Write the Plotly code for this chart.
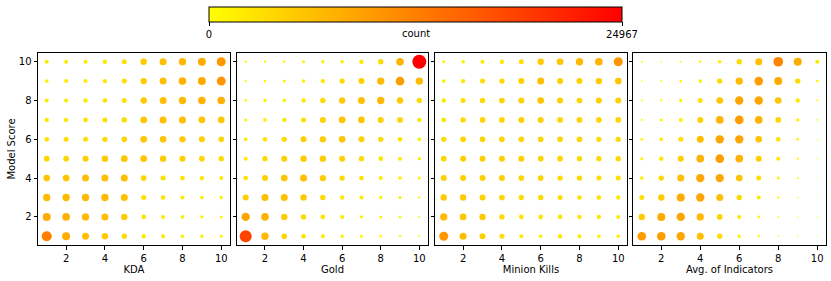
import plotly.graph_objects as go

# grid coordinates (indicator decile on x, model score on y)
x_vals = [1, 2, 3, 4, 5, 6, 7, 8, 9, 10]
y_vals = [1, 2, 3, 4, 5, 6, 7, 8, 9, 10]

panel_titles = ["KDA", "Gold", "Minion Kills", "Avg. of Indicators"]

# counts: each inner list is one model-score row (y = 1 .. 10), values for x = 1 .. 10
kda_counts = [
    [12740, 8150, 6240, 5110, 3620, 2390, 2040, 1710, 1420, 1150],
    [8150, 7490, 6850, 6240, 5110, 2770, 2040, 1710, 1420, 1150],
    [6850, 6850, 6850, 6850, 6240, 3190, 2770, 2040, 1710, 1420],
    [5660, 5660, 6240, 6240, 6240, 4090, 3190, 2770, 2390, 2040],
    [4090, 4090, 4590, 5110, 5660, 5660, 5110, 4590, 4090, 3620],
    [2770, 3190, 3190, 3620, 4090, 5660, 5660, 5110, 4590, 4090],
    [2390, 2390, 2770, 3190, 3620, 5660, 6240, 6240, 5660, 5660],
    [2040, 2040, 2390, 2770, 3190, 5110, 6240, 6850, 7490, 7490],
    [1710, 2040, 2040, 2390, 3190, 5110, 6240, 7490, 8150, 10320],
    [2040, 2040, 2040, 2390, 3190, 5110, 6240, 6850, 8150, 10320],
]
gold_counts = [
    [18340, 6850, 4090, 2770, 2040, 1420, 1150, 910, 690, 510],
    [8850, 7490, 5110, 3620, 2770, 2040, 1420, 1150, 910, 510],
    [4590, 6240, 6240, 5110, 3620, 2390, 2040, 1420, 1150, 690],
    [2770, 4590, 5660, 6240, 5110, 3620, 2770, 2040, 1710, 1150],
    [2040, 3620, 4590, 5110, 5110, 4590, 3620, 2770, 2040, 1420],
    [1710, 2770, 3620, 4590, 5110, 5660, 4590, 3620, 2770, 1710],
    [1150, 1710, 2390, 3190, 4590, 5660, 5660, 4590, 4090, 2390],
    [910, 1420, 1710, 2390, 3620, 5110, 6240, 6850, 5110, 3620],
    [690, 910, 1150, 1710, 2390, 3620, 4590, 6850, 9570, 6850],
    [690, 690, 910, 1150, 1420, 1710, 2390, 3620, 7490, 24967],
]
minion_counts = [
    [10320, 6240, 4590, 3190, 2040, 1710, 2390, 2040, 1710, 1710],
    [6850, 5660, 5110, 3620, 2770, 2770, 2770, 2390, 2390, 2040],
    [5110, 5110, 4590, 4090, 3620, 3620, 3190, 2770, 2770, 2390],
    [4590, 4590, 4590, 4590, 4090, 4090, 3620, 3620, 3190, 3190],
    [4090, 4590, 4590, 4590, 4590, 4090, 4090, 3620, 3620, 3620],
    [3620, 4090, 4090, 4090, 4090, 4090, 4090, 4090, 3620, 3620],
    [2770, 3620, 4090, 4090, 4590, 4590, 4090, 4090, 4090, 4090],
    [2390, 3190, 3620, 4090, 4590, 5660, 4590, 4090, 4590, 4590],
    [1710, 2390, 3190, 3620, 4590, 6240, 4590, 4590, 5110, 5660],
    [1150, 1710, 2040, 2390, 3190, 5110, 5660, 6850, 7490, 10320],
]
avg_counts = [
    [9570, 9570, 8850, 6240, 3620, 1420, 690, 350, 230, 130],
    [5110, 8150, 8850, 6850, 4090, 2040, 910, 350, 230, 130],
    [3190, 5110, 8150, 8850, 6240, 3620, 2040, 690, 350, 130],
    [1710, 3620, 6240, 8850, 8850, 5660, 3190, 1150, 510, 130],
    [1150, 2390, 4590, 7490, 9570, 7490, 4590, 2040, 690, 230],
    [910, 1710, 3190, 6240, 8850, 8850, 5660, 2770, 910, 230],
    [690, 1150, 2040, 4590, 7490, 9570, 7490, 4090, 1420, 350],
    [510, 690, 1420, 3190, 5660, 8850, 8850, 5660, 2390, 510],
    [350, 510, 910, 1710, 3620, 6850, 9570, 8150, 3620, 910],
    [510, 350, 510, 910, 1710, 3620, 6240, 11900, 8150, 2040],
]

count_max = 24967
colorbar_ticks = [0, 24967]

panels = [kda_counts, gold_counts, minion_counts, avg_counts]

W, H = 831, 281
x_px = [(38, 230), (237, 428), (435, 627), (633, 826)]
y_px = (53, 245)
max_diam = 14

fig = go.Figure()
for i, (counts, title) in enumerate(zip(panels, panel_titles)):
    xs, ys, cs = [], [], []
    for yi, row in zip(y_vals, counts):
        for xi, c in zip(x_vals, row):
            xs.append(xi)
            ys.append(yi)
            cs.append(c)
    fig.add_trace(go.Scatter(
        x=xs, y=ys, mode="markers",
        xaxis="x" if i == 0 else f"x{i+1}",
        yaxis="y" if i == 0 else f"y{i+1}",
        marker=dict(size=cs, sizemode="area", sizeref=2 * count_max / max_diam ** 2,
                    color=cs, coloraxis="coloraxis", opacity=1, line=dict(width=0)),
        showlegend=False, hoverinfo="x+y+text", text=[str(c) for c in cs],
    ))

font = dict(family="DejaVu Sans", size=10, color="black")
axis_common = dict(
    range=[0.55, 10.45], tickvals=[2, 4, 6, 8, 10], ticks="outside", ticklen=3.5,
    tickwidth=1, tickcolor="black", showline=True, linecolor="black", linewidth=1,
    mirror=True, showgrid=False, zeroline=False, tickfont=font,
)

layout = dict(
    width=W, height=H, margin=dict(l=0, r=0, t=0, b=0),
    paper_bgcolor="white", plot_bgcolor="white", font=font,
    coloraxis=dict(
        cmin=0, cmax=count_max,
        colorscale=[[0, "rgb(255,255,0)"], [1, "rgb(255,0,0)"]],
        colorbar=dict(
            orientation="h", x=415.5 / W, xanchor="center", y=1 - 7 / H, yanchor="top",
            len=413 / W, lenmode="fraction", thickness=15, thicknessmode="pixels",
            xpad=0, ypad=0, outlinewidth=1, outlinecolor="black",
            tickvals=colorbar_ticks, ticktext=[str(v) for v in colorbar_ticks],
            ticks="outside", ticklen=3.5, tickcolor="black", tickfont=font,
        ),
    ),
    annotations=[dict(text="count", x=0.5, y=1 - 33.5 / H, xref="paper", yref="paper",
                      showarrow=False, font=font, xanchor="center", yanchor="middle")],
)
for i, title in enumerate(panel_titles):
    xname = "xaxis" if i == 0 else f"xaxis{i+1}"
    yname = "yaxis" if i == 0 else f"yaxis{i+1}"
    xa = dict(axis_common)
    xa.update(domain=[x_px[i][0] / W, x_px[i][1] / W], anchor="y" if i == 0 else f"y{i+1}",
              title=dict(text=title, font=font, standoff=1))
    ya = dict(axis_common)
    ya.update(domain=[1 - y_px[1] / H, 1 - y_px[0] / H], anchor="x" if i == 0 else f"x{i+1}",
              showticklabels=(i == 0))
    if i == 0:
        ya.update(title=dict(text="Model Score", font=font, standoff=1))
    layout[xname] = xa
    layout[yname] = ya

fig.update_layout(**layout)
fig.write_html("out.html", config={"displayModeBar": False},
               post_script="document.body.style.margin='0';document.body.style.overflow='hidden';")
